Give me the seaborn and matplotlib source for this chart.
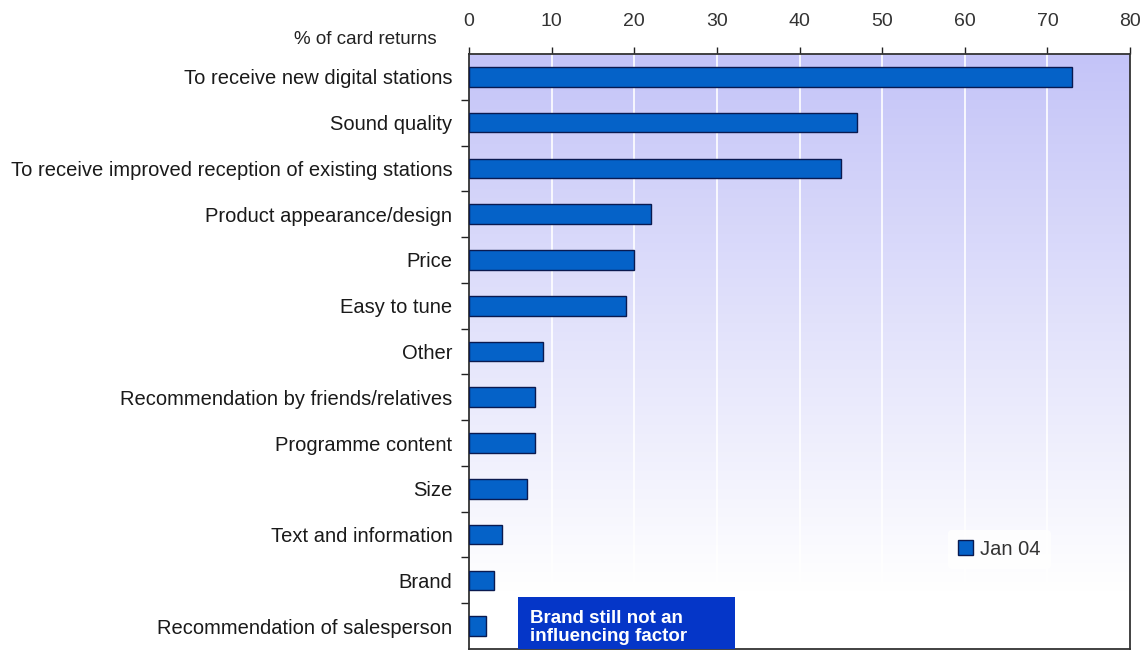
import numpy as np
import pandas as pd
import matplotlib
matplotlib.use("Agg")
import matplotlib.pyplot as plt
import seaborn as sns
from matplotlib.colors import LinearSegmentedColormap
from matplotlib.patches import Rectangle

reasons = [
    "To receive new digital stations",
    "Sound quality",
    "To receive improved reception of existing stations",
    "Product appearance/design",
    "Price",
    "Easy to tune",
    "Other",
    "Recommendation by friends/relatives",
    "Programme content",
    "Size",
    "Text and information",
    "Brand",
    "Recommendation of salesperson",
]
pct_jan04 = [73, 47, 45, 22, 20, 19, 9, 8, 8, 7, 4, 3, 2]
x_ticks = [0, 10, 20, 30, 40, 50, 60, 70, 80]
series_name = "Jan 04"
axis_title = "% of card returns"
callout = "Brand still not an\ninfluencing factor"

df = pd.DataFrame({"reason": reasons, "pct": pct_jan04, "wave": series_name})

sns.set_theme(style="white")
plt.rcParams["font.family"] = ["Liberation Sans", "DejaVu Sans"]

fig = plt.figure(figsize=(11.41, 6.51), dpi=100)
ax = fig.add_axes([469 / 1141, 1 - 649 / 651, (1130 - 469) / 1141, (649 - 54) / 651])

n = len(reasons)
# lavender-to-white vertical wash behind the bars
grad = LinearSegmentedColormap.from_list("wash", ["#c4c4f8", "#e2e2fb", "#ffffff"])
g = np.linspace(0, 1, 256).reshape(-1, 1)
ax.imshow(g, cmap=grad, aspect="auto", extent=[0, 80, n - 1.75, -0.5],
          zorder=0, interpolation="bilinear")

for xv in x_ticks[1:-1]:
    ax.axvline(xv, color="white", lw=1.2, zorder=1)

sns.barplot(data=df, x="pct", y="reason", hue="wave", orient="h",
            palette=["#0562c8"], saturation=1, edgecolor="#0a1a50",
            linewidth=1.0, width=0.43, ax=ax, zorder=3, legend=True)

ax.set_xlim(0, 80)
ax.set_ylim(n - 0.5, -0.5)
ax.xaxis.tick_top()
ax.set_xticks(x_ticks)
ax.tick_params(axis="x", which="major", direction="out", length=5, width=1,
               color="#222222", pad=12, labelsize=14, labelcolor="#333333",
               top=True, bottom=False)
ax.set_yticks(range(n))
ax.set_yticklabels(reasons)
ax.tick_params(axis="y", which="major", length=0, pad=12, labelsize=14.5,
               labelcolor="#1a1a1a")
ax.set_yticks(np.arange(0.5, n - 0.5, 1), minor=True)
ax.tick_params(axis="y", which="minor", direction="out", length=6, width=1,
               color="#222222", left=True)
ax.set_xlabel("")
ax.set_ylabel("")
for s in ax.spines.values():
    s.set_visible(True)
    s.set_color("#333333")
    s.set_linewidth(1.3)

ax.text(-32 / 661, 1 + 15 / 595, axis_title, transform=ax.transAxes, ha="right",
        va="center", fontsize=13.5, color="#222222")

# callout box at the bottom of the chart
box = Rectangle((5.95, 11.36), 26.25, 1.2, facecolor="#0536c8",
                edgecolor="none", zorder=5)
ax.add_patch(box)
ax.text(7.4, 11.64, callout, ha="left", va="top", fontsize=13.5,
        fontweight="bold", color="white", zorder=6, linespacing=1.1)

leg = ax.legend(loc="lower right", bbox_to_anchor=(0.895, 0.118), frameon=True,
                fontsize=14.5, handlelength=0.75, handleheight=0.75,
                handletextpad=0.35, borderpad=0.5)
leg.get_frame().set_facecolor("white")
leg.get_frame().set_edgecolor("white")
leg.get_frame().set_linewidth(0)
for t in leg.get_texts():
    t.set_color("#333333")

fig.savefig("out.png", dpi=100)
